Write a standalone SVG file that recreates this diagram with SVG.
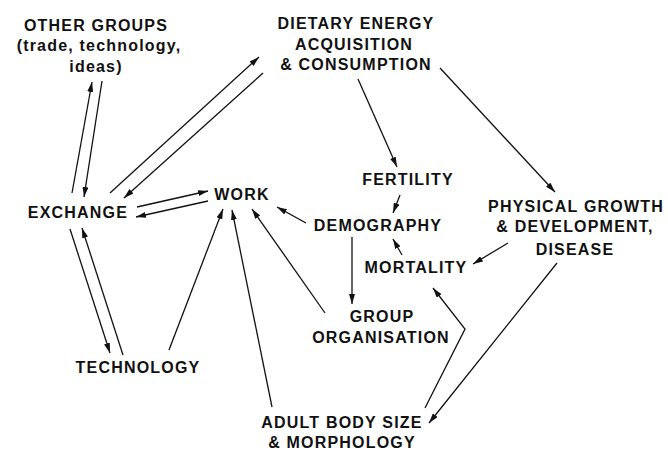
<svg xmlns="http://www.w3.org/2000/svg" width="668" height="450" viewBox="0 0 668 450">
<style>
text{font-family:"Liberation Sans",Arial,sans-serif;font-weight:bold;font-size:16px;letter-spacing:1.2px;text-anchor:middle;fill:#111}
.c line,.c polyline{stroke:#111;stroke-width:1.3;fill:none;marker-end:url(#ah)}
</style>
<defs>
<marker id="ah" markerUnits="userSpaceOnUse" viewBox="0 0 10 6" refX="10" refY="3" markerWidth="10" markerHeight="6" orient="auto">
<path d="M0,0 L10,3 L0,6 Z" fill="#111"/>
</marker>
</defs>
<rect width="668" height="450" fill="#fff"/>
<g id="other-groups"><text x="96" y="31">OTHER GROUPS</text><text x="99" y="51">(trade, technology,</text><text x="96" y="72">ideas)</text></g>
<g id="dietary"><text x="356" y="29">DIETARY ENERGY</text><text x="354" y="50">ACQUISITION</text><text x="356" y="70">&amp; CONSUMPTION</text></g>
<g id="fertility"><text x="408" y="185">FERTILITY</text></g>
<g id="work"><text x="242" y="200">WORK</text></g>
<g id="exchange"><text x="78" y="218">EXCHANGE</text></g>
<g id="demography"><text x="378" y="231">DEMOGRAPHY</text></g>
<g id="physical"><text x="576" y="212">PHYSICAL GROWTH</text><text x="575" y="232">&amp; DEVELOPMENT,</text><text x="575" y="255">DISEASE</text></g>
<g id="mortality"><text x="416" y="273">MORTALITY</text></g>
<g id="group-organisation"><text x="382" y="322">GROUP</text><text x="381" y="343">ORGANISATION</text></g>
<g id="technology"><text x="138" y="373">TECHNOLOGY</text></g>
<g id="adult-body"><text x="342" y="428">ADULT BODY SIZE</text><text x="342" y="448">&amp; MORPHOLOGY</text></g>
<g id="connectors" class="c">
<line x1="72" y1="193" x2="92" y2="82"/>
<line x1="102" y1="81" x2="84" y2="197"/>
<line x1="110" y1="193" x2="259" y2="57"/>
<line x1="263" y1="73" x2="124" y2="198"/>
<line x1="137" y1="207" x2="208" y2="191"/>
<line x1="208" y1="201" x2="136" y2="217"/>
<line x1="70" y1="229" x2="110" y2="353"/>
<line x1="123" y1="355" x2="82" y2="228"/>
<line x1="169" y1="350" x2="223" y2="209"/>
<line x1="272" y1="407" x2="232" y2="210"/>
<line x1="325" y1="313" x2="252" y2="209"/>
<line x1="306" y1="223" x2="277" y2="207"/>
<line x1="358" y1="79" x2="397" y2="167"/>
<line x1="400" y1="195" x2="393" y2="213"/>
<line x1="402" y1="255" x2="393" y2="239"/>
<line x1="352" y1="237" x2="352" y2="304"/>
<line x1="440" y1="68" x2="555" y2="192"/>
<line x1="508" y1="243" x2="473" y2="264"/>
<line x1="557" y1="263" x2="429" y2="423"/>
<polyline points="425,408 465,329 433,288"/>
</g>
</svg>
